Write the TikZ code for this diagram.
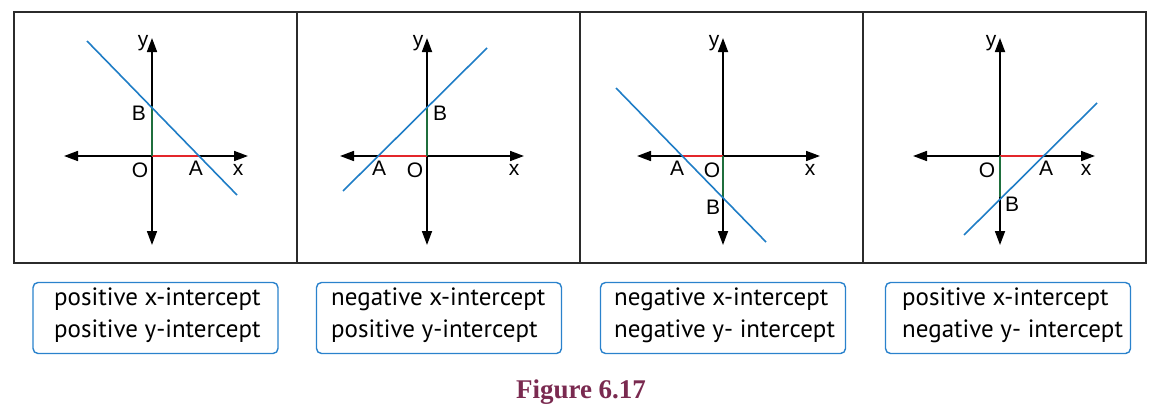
\documentclass[tikz,border=0pt]{standalone}
\usepackage{fontspec}
\setmainfont{Liberation Sans}
\newfontfamily\capfont{Liberation Serif}
\newfontfamily\boxfont{PT Sans}
\usetikzlibrary{arrows.meta}
\definecolor{lineblue}{HTML}{1F7DC6}
\definecolor{segred}{HTML}{E3262B}
\definecolor{seggreen}{HTML}{1F6E3C}
\definecolor{boxblue}{HTML}{2A82CC}
\definecolor{capcol}{HTML}{7A2A50}
\definecolor{framecol}{HTML}{2B2B2B}
\begin{document}
\begin{tikzpicture}[x=1pt,y=-1pt,
  axis/.style={line width=1.7pt,black,{Triangle[length=14pt,width=10pt]}-{Triangle[length=14pt,width=10pt]}},
  gline/.style={line width=1.6pt,lineblue},
  redseg/.style={line width=2.2pt,segred},
  greenseg/.style={line width=2.2pt,seggreen},
  lbl/.style={font=\fontsize{21}{21}\selectfont,inner sep=0pt},
  capbox/.style={draw=boxblue,line width=1.4pt,rounded corners=5pt,minimum width=245pt,minimum height=71pt,inner sep=0pt},
  boxtext/.style={font=\boxfont\fontsize{25}{32}\selectfont,align=left,anchor=west,inner sep=0pt}]
\useasboundingbox (0,0) rectangle (1174,415);
% frame
\draw[framecol,line width=1.6pt] (14,12) rectangle (1146,263);
\draw[framecol,line width=1.6pt] (297,12) -- (297,263);
\draw[framecol,line width=1.6pt] (580,12) -- (580,263);
\draw[framecol,line width=1.6pt] (863,12) -- (863,263);

% ---------- panel 1 ----------
\coordinate (o1) at (152,156);
\coordinate (xl1) at (64,156); \coordinate (xr1) at (248,156);
\coordinate (yt1) at (152,38); \coordinate (yb1) at (152,245);
\coordinate (a1) at (199,156); \coordinate (b1) at (152,106);
\coordinate (p1s) at (87,41); \coordinate (p1e) at (237,195);
\draw[axis] (xl1) -- (xr1);
\draw[axis] (yb1) -- (yt1);
\draw[redseg] (o1) -- (a1);
\draw[greenseg] (o1) -- (b1);
\draw[gline] (p1s) -- (p1e);
\node[lbl] (ly1) at (143,43) {y};
\node[lbl] (lb1) at (139,113) {B};
\node[lbl] (lo1) at (140,170) {O};
\node[lbl] (la1) at (196,168) {A};
\node[lbl] (lx1) at (238,170) {x};

% ---------- panel 2 ----------
\coordinate (o2) at (427,156);
\coordinate (xl2) at (340,156); \coordinate (xr2) at (524,156);
\coordinate (yt2) at (427,38); \coordinate (yb2) at (427,245);
\coordinate (a2) at (378,156); \coordinate (b2) at (427,107);
\coordinate (p2s) at (343,191); \coordinate (p2e) at (487,48);
\draw[axis] (xl2) -- (xr2);
\draw[axis] (yb2) -- (yt2);
\draw[redseg] (o2) -- (a2);
\draw[greenseg] (o2) -- (b2);
\draw[gline] (p2s) -- (p2e);
\node[lbl] (ly2) at (418,43) {y};
\node[lbl] (lb2) at (440,113) {B};
\node[lbl] (la2) at (379,168) {A};
\node[lbl] (lo2) at (415,170) {O};
\node[lbl] (lx2) at (514,170) {x};

% ---------- panel 3 ----------
\coordinate (o3) at (723,156);
\coordinate (xl3) at (637,156); \coordinate (xr3) at (820,156);
\coordinate (yt3) at (723,38); \coordinate (yb3) at (723,245);
\coordinate (a3) at (683,156); \coordinate (b3) at (723,198);
\coordinate (p3s) at (616,88); \coordinate (p3e) at (766,242);
\draw[axis] (xl3) -- (xr3);
\draw[axis] (yb3) -- (yt3);
\draw[redseg] (o3) -- (a3);
\draw[greenseg] (o3) -- (b3);
\draw[gline] (p3s) -- (p3e);
\node[lbl] (ly3) at (714,43) {y};
\node[lbl] (la3) at (677,168) {A};
\node[lbl] (lo3) at (712,170) {O};
\node[lbl] (lx3) at (810,170) {x};
\node[lbl] (lb3) at (713,207) {B};

% ---------- panel 4 ----------
\coordinate (o4) at (1000,156);
\coordinate (xl4) at (913,156); \coordinate (xr4) at (1095,156);
\coordinate (yt4) at (1000,38); \coordinate (yb4) at (1000,245);
\coordinate (a4) at (1043,156); \coordinate (b4) at (1000,197);
\coordinate (p4s) at (964,235); \coordinate (p4e) at (1097,103);
\draw[axis] (xl4) -- (xr4);
\draw[axis] (yb4) -- (yt4);
\draw[redseg] (o4) -- (a4);
\draw[greenseg] (o4) -- (b4);
\draw[gline] (p4s) -- (p4e);
\node[lbl] (ly4) at (991,43) {y};
\node[lbl] (lo4) at (987,170) {O};
\node[lbl] (la4) at (1046,168) {A};
\node[lbl] (lx4) at (1086,170) {x};
\node[lbl] (lb4) at (1012,204) {B};

% ---------- caption boxes ----------
\node[capbox] (c1) at (155.5,318) {};
\node[boxtext] (t1) at (54,315) {positive x-intercept\\positive y-intercept};
\node[capbox] (c2) at (439,318) {};
\node[boxtext] (t2) at (331,315) {negative x-intercept\\positive y-intercept};
\node[capbox] (c3) at (723,318) {};
\node[boxtext] (t3) at (614,315) {negative x-intercept\\negative y- intercept};
\node[capbox] (c4) at (1008,318) {};
\node[boxtext] (t4) at (902,315) {positive x-intercept\\negative y- intercept};

\node[font=\capfont\bfseries\fontsize{27}{27}\selectfont,text=capcol,inner sep=0pt] (fig) at (581,392) {Figure 6.17};
\end{tikzpicture}
\end{document}
